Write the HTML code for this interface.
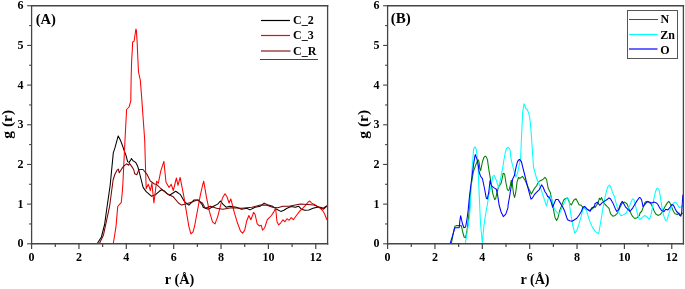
<!DOCTYPE html>
<html><head><meta charset="utf-8"><style>
html,body{margin:0;padding:0;background:#fff;}
svg{display:block;}
text{font-family:"Liberation Serif",serif;font-weight:bold;fill:#000;}
.tl{font-size:12px;}
.lg{font-size:12px;}
.pl{font-size:14px;}
.al{font-size:15.5px;}
</style></head><body>
<svg width="685" height="289" viewBox="0 0 685 289">
<rect width="685" height="289" fill="#fff"/>
<polyline points="31.5,243.5 97.3,243.5 101.4,237.0 104.6,224.5 106.6,210.0 108.7,195.4 110.2,185.0 113.3,152.9 115.0,147.7 118.2,135.9 120.6,140.6 122.9,146.8 124.5,151.5 126.0,155.4 127.6,161.6 129.1,162.4 130.7,160.0 131.5,158.5 133.0,160.8 134.6,161.6 136.2,163.2 137.7,166.3 138.9,170.5 140.0,175.0 143.1,187.4 146.2,191.6 151.4,196.2 155.6,194.7 159.3,191.3 161.7,189.7 164.8,191.3 167.1,193.6 169.5,195.2 173.4,192.8 175.7,191.3 178.0,192.8 180.5,194.7 184.7,202.0 188.9,205.1 194.1,199.9 198.2,199.9 202.4,205.0 203.1,207.2 208.3,209.3 213.5,206.2 217.7,204.1 220.4,201.0 222.9,204.1 226.0,207.2 230.1,206.2 236.4,207.2 241.6,209.3 246.8,208.3 249.9,209.9 255.1,207.2 260.3,206.2 264.2,203.1 268.3,205.1 272.5,206.2 276.6,209.3 280.8,211.4 283.9,210.3 287.0,208.3 291.2,206.6 295.3,207.2 298.5,206.2 301.6,209.3 304.7,210.3 308.9,209.9 313.0,208.3 317.2,207.2 320.3,207.2 323.4,208.3 327.0,205.8" fill="none" stroke="#000" stroke-width="1.05" stroke-linejoin="round"/>
<polyline points="31.5,243.5 113.3,243.5 116.0,226.6 117.7,206.8 119.1,204.8 121.2,202.7 122.2,193.3 122.8,185.0 125.0,140.0 126.6,109.5 129.1,107.0 130.8,100.8 131.1,80.0 131.6,61.6 132.4,48.0 132.6,42.0 134.0,41.5 134.8,36.5 135.9,29.0 136.5,31.0 136.7,36.0 137.1,41.0 137.8,57.4 138.5,72.0 140.3,80.0 141.6,96.6 144.7,140.0 145.4,164.2 146.2,188.5 148.3,184.3 150.4,190.5 151.9,183.3 153.9,203.0 156.6,181.2 158.3,183.3 160.8,170.8 163.9,161.4 166.0,182.2 169.1,187.4 171.2,184.3 173.3,190.5 176.4,178.0 178.0,185.3 180.1,177.4 183.7,195.7 186.8,214.1 188.9,226.6 190.9,233.9 193.0,231.8 194.5,226.6 197.2,212.0 200.3,195.4 202.4,186.0 203.7,181.2 206.2,195.8 209.4,211.4 212.5,221.8 215.0,223.9 217.7,216.6 219.8,208.3 222.5,197.9 225.0,193.7 227.0,196.8 229.1,203.0 230.8,198.9 232.2,204.1 234.3,212.4 237.4,222.8 240.5,231.1 242.6,233.2 244.7,230.1 246.8,220.7 248.9,215.5 250.9,219.7 253.6,212.4 255.1,214.5 257.2,223.9 259.3,225.9 261.3,225.3 262.5,230.1 264.6,228.0 267.3,219.7 269.4,217.6 271.4,215.5 273.5,212.4 275.6,208.3 277.0,221.8 278.7,224.9 280.8,222.8 282.9,219.7 284.9,221.8 287.0,218.7 289.1,220.3 291.2,217.6 293.3,219.7 296.4,215.5 299.5,211.4 302.6,208.3 305.7,205.1 308.2,202.0 309.9,201.0 311.6,203.1 314.5,204.5 317.8,206.6 320.3,208.3 322.4,210.3 324.4,213.5 326.5,218.7 327.0,220.0" fill="none" stroke="#ff0000" stroke-width="1.05" stroke-linejoin="round"/>
<polyline points="31.5,243.5 99.4,243.5 103.5,234.9 106.6,220.3 109.7,205.8 111.5,192.0 113.1,180.0 114.8,174.5 116.9,170.4 118.3,169.0 119.3,172.8 120.4,171.0 121.8,168.7 123.8,166.2 126.6,163.8 128.7,165.2 129.5,163.3 131.6,166.4 133.7,169.5 134.7,173.7 136.8,174.7 138.9,169.5 143.0,169.5 147.2,174.7 150.3,181.0 154.4,184.0 156.6,184.3 160.8,188.5 167.0,193.7 173.3,196.8 178.5,203.0 181.6,205.1 185.7,204.1 192.0,202.0 197.2,199.9 202.4,203.0 205.2,208.3 210.4,206.2 216.6,208.3 222.9,209.3 231.2,207.8 241.6,208.3 252.0,207.2 260.3,205.1 266.2,205.1 272.5,207.2 277.7,207.8 282.9,206.2 289.1,206.2 295.3,205.1 300.5,204.1 307.8,204.5 314.0,205.1 319.3,207.2 323.4,209.3 327.0,206.2" fill="none" stroke="#800000" stroke-width="1.05" stroke-linejoin="round"/>
<polyline points="451.4,243.5 453.5,232.0 454.9,226.3 456.3,225.6 461.3,225.6 462.7,232.0 464.1,237.0 465.6,237.7 467.0,230.6 468.4,219.2 469.8,205.0 470.6,189.0 473.3,172.0 475.6,165.3 477.2,161.5 478.3,159.9 479.1,162.2 479.8,168.3 480.6,170.6 481.4,166.8 482.5,161.5 484.0,157.3 485.2,156.1 486.3,156.9 487.5,159.9 488.2,165.3 489.0,170.6 491.4,184.9 492.9,194.1 494.7,199.6 495.6,198.9 497.0,192.7 498.4,187.2 499.8,185.1 501.2,183.0 503.2,173.3 504.6,174.0 506.0,183.0 507.4,189.9 508.8,190.6 510.2,185.8 511.3,180.2 512.2,183.0 513.6,194.1 514.6,197.5 515.7,192.7 517.1,181.6 518.5,177.5 520.0,178.2 522.5,176.4 525.2,180.5 528.3,187.8 531.4,194.1 534.1,188.9 536.6,185.7 538.7,181.6 540.8,180.5 542.9,179.5 544.9,177.4 546.6,179.5 548.1,188.0 550.3,192.5 551.9,200.2 553.5,209.6 555.0,217.4 556.6,220.5 558.1,217.4 559.7,210.4 562.0,204.9 563.6,200.2 565.1,198.7 567.5,197.9 569.8,203.4 571.4,204.9 573.7,200.2 576.0,198.7 577.6,201.8 579.2,204.9 580.7,204.9 583.0,207.3 585.4,208.8 587.7,209.6 590.1,210.4 592.4,208.8 594.7,206.5 595.0,207.6 596.6,205.3 598.1,202.9 599.4,198.2 600.5,199.8 601.5,197.5 602.8,200.6 604.3,203.7 606.7,206.0 609.0,208.4 610.6,213.8 612.9,216.2 615.2,215.4 617.6,213.0 619.9,207.6 622.3,202.9 624.6,202.1 626.9,203.7 628.5,207.6 630.0,211.5 632.4,216.2 634.7,218.5 637.1,217.7 639.4,215.4 640.0,213.0 641.6,211.5 643.1,207.6 644.7,202.9 646.2,201.4 648.6,202.1 650.9,203.7 652.5,206.8 654.0,210.7 655.6,213.8 657.9,215.4 660.2,214.6 662.6,211.5 664.9,206.8 667.3,202.9 668.8,201.4 670.4,203.7 671.9,207.6 673.5,211.5 675.0,213.8 677.4,214.6 678.9,213.0 680.5,215.4 681.7,213.8 683.6,213.0" fill="none" stroke="#008000" stroke-width="1.05" stroke-linejoin="round"/>
<polyline points="465.3,243.5 467.0,233.4 468.4,224.9 469.8,213.5 471.4,185.0 471.8,172.0 473.0,157.6 473.5,150.0 474.3,147.5 475.3,147.0 476.4,150.0 477.2,157.6 478.3,172.0 479.0,190.0 480.5,223.5 482.3,242.6 484.0,224.9 486.2,210.7 487.3,205.0 488.7,196.0 490.8,187.2 492.9,176.1 494.2,175.4 496.3,180.2 498.4,187.2 499.6,184.0 501.1,175.6 502.7,167.8 503.9,160.0 505.2,153.0 506.6,148.5 508.4,147.2 510.0,149.5 511.2,160.0 512.8,166.2 514.4,172.5 515.9,177.1 517.5,173.2 519.0,166.2 520.6,158.0 521.6,135.0 522.7,111.6 524.1,103.7 525.8,108.5 527.5,110.0 528.9,113.7 530.0,120.0 531.0,130.3 532.0,144.9 533.5,167.0 536.6,178.5 539.8,185.7 542.9,195.1 544.5,200.0 546.4,205.9 547.4,202.4 548.5,197.5 549.8,195.8 551.2,197.5 552.6,202.4 554.0,207.9 555.4,210.7 556.8,212.0 558.5,214.0 560.0,212.5 562.3,207.0 564.4,202.4 565.8,199.3 567.2,197.5 568.9,199.5 570.6,212.9 572.7,225.3 574.8,233.2 576.8,230.5 578.9,224.3 581.0,217.0 583.1,208.7 585.1,207.7 587.2,212.9 589.3,220.1 592.4,227.4 595.5,231.6 598.7,233.7 600.5,223.0 602.8,209.2 605.1,196.7 607.5,187.3 609.3,185.0 610.6,186.6 612.1,191.2 614.5,196.7 616.0,202.9 617.6,208.4 619.1,213.0 620.7,215.4 622.3,215.4 623.8,214.6 626.2,213.0 628.5,208.4 630.8,202.9 632.4,199.0 633.6,199.0 634.7,202.1 636.3,209.2 637.8,215.4 639.4,219.3 640.0,219.3 642.3,217.7 644.7,215.4 647.0,216.9 649.3,219.3 650.9,215.4 652.5,207.6 654.0,198.2 655.6,191.2 657.1,188.1 658.7,188.9 659.9,193.6 661.0,201.4 662.6,210.7 664.1,216.9 665.7,220.8 667.3,219.3 668.8,213.8 670.4,209.2 671.9,206.0 673.5,202.9 675.0,202.1 676.6,202.9 678.2,206.0 679.7,207.6 681.3,206.8 683.6,205.3" fill="none" stroke="#00ffff" stroke-width="1.05" stroke-linejoin="round"/>
<polyline points="450.2,243.5 452.8,234.8 454.9,227.7 459.2,227.7 459.9,220.6 460.6,215.7 461.3,218.5 462.4,223.5 463.9,227.7 465.6,227.0 467.0,219.2 468.1,210.7 469.6,195.0 472.6,172.0 473.7,163.7 474.9,156.1 475.3,154.6 476.4,157.6 477.2,159.9 478.3,165.3 479.1,172.0 480.5,176.0 482.5,178.9 484.5,188.5 486.3,198.2 487.3,198.9 488.7,192.7 490.1,180.2 491.5,185.8 494.2,187.9 496.3,189.2 497.7,195.5 499.1,205.0 501.1,212.0 503.3,216.6 505.8,214.1 507.9,207.9 508.1,205.0 509.7,195.8 511.2,186.5 512.8,178.7 514.4,175.6 515.9,167.8 517.5,161.6 519.0,159.6 519.8,159.6 521.4,161.6 522.9,167.8 524.5,174.0 526.0,180.2 527.6,186.5 529.2,192.7 531.0,199.2 532.3,198.2 534.6,194.3 536.9,191.9 539.3,189.6 541.6,184.9 543.2,187.3 544.7,191.2 546.4,193.7 547.8,196.8 548.0,196.4 549.6,197.9 551.1,201.8 552.7,207.3 554.2,203.4 555.8,199.5 558.1,199.5 560.5,203.4 562.8,207.3 564.4,210.4 565.9,215.0 567.5,219.7 569.8,220.8 572.1,221.3 574.5,219.7 576.8,218.2 579.2,215.0 581.5,211.2 583.0,207.3 584.6,206.5 586.2,208.0 588.5,210.4 590.1,211.2 591.6,208.0 593.2,207.3 594.7,205.7 595.0,203.7 597.3,202.1 599.7,205.3 602.0,202.9 604.3,201.4 606.7,199.8 609.0,197.9 610.6,199.0 612.9,202.9 615.2,208.4 616.8,211.5 618.4,209.9 620.7,203.7 622.3,201.4 623.8,203.7 625.4,206.8 627.7,209.2 630.0,211.5 632.4,208.4 634.7,204.5 637.1,200.6 639.4,197.5 640.0,197.5 641.6,199.8 643.1,206.8 645.5,203.7 647.8,201.4 649.3,202.1 651.7,202.9 654.0,202.1 656.4,202.9 657.9,204.5 659.5,207.6 661.8,210.7 664.1,211.5 665.7,209.2 668.0,209.9 670.4,206.8 671.9,204.5 673.5,205.3 675.0,208.4 676.6,211.5 678.2,213.0 679.7,215.4 680.8,216.2 681.7,212.3 682.4,201.4 682.8,195.1 683.6,196.7" fill="none" stroke="#0000ff" stroke-width="1.05" stroke-linejoin="round"/>
<line x1="30.900000000000002" y1="5.75" x2="328.3" y2="5.75" stroke="#454545" stroke-width="1.5"/>
<line x1="30.900000000000002" y1="243.8" x2="328.3" y2="243.8" stroke="#454545" stroke-width="1.5"/>
<line x1="31.6" y1="5" x2="31.6" y2="244.55" stroke="#454545" stroke-width="1.3"/>
<line x1="327.6" y1="5" x2="327.6" y2="244.55" stroke="#454545" stroke-width="1.3"/>
<line x1="27.1" y1="243.80" x2="31.6" y2="243.80" stroke="#454545" stroke-width="1.1"/>
<text x="23.6" y="247.20" class="tl" text-anchor="end">0</text>
<line x1="29.1" y1="223.96" x2="31.6" y2="223.96" stroke="#454545" stroke-width="1.1"/>
<line x1="27.1" y1="204.12" x2="31.6" y2="204.12" stroke="#454545" stroke-width="1.1"/>
<text x="23.6" y="207.53" class="tl" text-anchor="end">1</text>
<line x1="29.1" y1="184.29" x2="31.6" y2="184.29" stroke="#454545" stroke-width="1.1"/>
<line x1="27.1" y1="164.45" x2="31.6" y2="164.45" stroke="#454545" stroke-width="1.1"/>
<text x="23.6" y="167.85" class="tl" text-anchor="end">2</text>
<line x1="29.1" y1="144.61" x2="31.6" y2="144.61" stroke="#454545" stroke-width="1.1"/>
<line x1="27.1" y1="124.78" x2="31.6" y2="124.78" stroke="#454545" stroke-width="1.1"/>
<text x="23.6" y="128.18" class="tl" text-anchor="end">3</text>
<line x1="29.1" y1="104.94" x2="31.6" y2="104.94" stroke="#454545" stroke-width="1.1"/>
<line x1="27.1" y1="85.10" x2="31.6" y2="85.10" stroke="#454545" stroke-width="1.1"/>
<text x="23.6" y="88.50" class="tl" text-anchor="end">4</text>
<line x1="29.1" y1="65.26" x2="31.6" y2="65.26" stroke="#454545" stroke-width="1.1"/>
<line x1="27.1" y1="45.43" x2="31.6" y2="45.43" stroke="#454545" stroke-width="1.1"/>
<text x="23.6" y="48.83" class="tl" text-anchor="end">5</text>
<line x1="29.1" y1="25.59" x2="31.6" y2="25.59" stroke="#454545" stroke-width="1.1"/>
<line x1="27.1" y1="5.75" x2="31.6" y2="5.75" stroke="#454545" stroke-width="1.1"/>
<text x="23.6" y="9.15" class="tl" text-anchor="end">6</text>
<line x1="31.60" y1="243.8" x2="31.60" y2="249.0" stroke="#454545" stroke-width="1.2"/>
<text x="31.60" y="261" class="tl" text-anchor="middle">0</text>
<line x1="55.28" y1="243.8" x2="55.28" y2="247.0" stroke="#454545" stroke-width="1.2"/>
<line x1="78.96" y1="243.8" x2="78.96" y2="249.0" stroke="#454545" stroke-width="1.2"/>
<text x="78.96" y="261" class="tl" text-anchor="middle">2</text>
<line x1="102.64" y1="243.8" x2="102.64" y2="247.0" stroke="#454545" stroke-width="1.2"/>
<line x1="126.32" y1="243.8" x2="126.32" y2="249.0" stroke="#454545" stroke-width="1.2"/>
<text x="126.32" y="261" class="tl" text-anchor="middle">4</text>
<line x1="150.00" y1="243.8" x2="150.00" y2="247.0" stroke="#454545" stroke-width="1.2"/>
<line x1="173.68" y1="243.8" x2="173.68" y2="249.0" stroke="#454545" stroke-width="1.2"/>
<text x="173.68" y="261" class="tl" text-anchor="middle">6</text>
<line x1="197.36" y1="243.8" x2="197.36" y2="247.0" stroke="#454545" stroke-width="1.2"/>
<line x1="221.04" y1="243.8" x2="221.04" y2="249.0" stroke="#454545" stroke-width="1.2"/>
<text x="221.04" y="261" class="tl" text-anchor="middle">8</text>
<line x1="244.72" y1="243.8" x2="244.72" y2="247.0" stroke="#454545" stroke-width="1.2"/>
<line x1="268.40" y1="243.8" x2="268.40" y2="249.0" stroke="#454545" stroke-width="1.2"/>
<text x="268.40" y="261" class="tl" text-anchor="middle">10</text>
<line x1="292.08" y1="243.8" x2="292.08" y2="247.0" stroke="#454545" stroke-width="1.2"/>
<line x1="315.76" y1="243.8" x2="315.76" y2="249.0" stroke="#454545" stroke-width="1.2"/>
<text x="315.76" y="261" class="tl" text-anchor="middle">12</text>
<line x1="386.90000000000003" y1="5.75" x2="684.1" y2="5.75" stroke="#454545" stroke-width="1.5"/>
<line x1="386.90000000000003" y1="243.8" x2="684.1" y2="243.8" stroke="#454545" stroke-width="1.5"/>
<line x1="387.6" y1="5" x2="387.6" y2="244.55" stroke="#454545" stroke-width="1.3"/>
<line x1="683.4" y1="5" x2="683.4" y2="244.55" stroke="#454545" stroke-width="1.3"/>
<line x1="383.1" y1="243.80" x2="387.6" y2="243.80" stroke="#454545" stroke-width="1.1"/>
<text x="379.6" y="247.20" class="tl" text-anchor="end">0</text>
<line x1="385.1" y1="223.96" x2="387.6" y2="223.96" stroke="#454545" stroke-width="1.1"/>
<line x1="383.1" y1="204.12" x2="387.6" y2="204.12" stroke="#454545" stroke-width="1.1"/>
<text x="379.6" y="207.53" class="tl" text-anchor="end">1</text>
<line x1="385.1" y1="184.29" x2="387.6" y2="184.29" stroke="#454545" stroke-width="1.1"/>
<line x1="383.1" y1="164.45" x2="387.6" y2="164.45" stroke="#454545" stroke-width="1.1"/>
<text x="379.6" y="167.85" class="tl" text-anchor="end">2</text>
<line x1="385.1" y1="144.61" x2="387.6" y2="144.61" stroke="#454545" stroke-width="1.1"/>
<line x1="383.1" y1="124.78" x2="387.6" y2="124.78" stroke="#454545" stroke-width="1.1"/>
<text x="379.6" y="128.18" class="tl" text-anchor="end">3</text>
<line x1="385.1" y1="104.94" x2="387.6" y2="104.94" stroke="#454545" stroke-width="1.1"/>
<line x1="383.1" y1="85.10" x2="387.6" y2="85.10" stroke="#454545" stroke-width="1.1"/>
<text x="379.6" y="88.50" class="tl" text-anchor="end">4</text>
<line x1="385.1" y1="65.26" x2="387.6" y2="65.26" stroke="#454545" stroke-width="1.1"/>
<line x1="383.1" y1="45.43" x2="387.6" y2="45.43" stroke="#454545" stroke-width="1.1"/>
<text x="379.6" y="48.83" class="tl" text-anchor="end">5</text>
<line x1="385.1" y1="25.59" x2="387.6" y2="25.59" stroke="#454545" stroke-width="1.1"/>
<line x1="383.1" y1="5.75" x2="387.6" y2="5.75" stroke="#454545" stroke-width="1.1"/>
<text x="379.6" y="9.15" class="tl" text-anchor="end">6</text>
<line x1="387.60" y1="243.8" x2="387.60" y2="249.0" stroke="#454545" stroke-width="1.2"/>
<text x="387.60" y="261" class="tl" text-anchor="middle">0</text>
<line x1="411.28" y1="243.8" x2="411.28" y2="247.0" stroke="#454545" stroke-width="1.2"/>
<line x1="434.96" y1="243.8" x2="434.96" y2="249.0" stroke="#454545" stroke-width="1.2"/>
<text x="434.96" y="261" class="tl" text-anchor="middle">2</text>
<line x1="458.64" y1="243.8" x2="458.64" y2="247.0" stroke="#454545" stroke-width="1.2"/>
<line x1="482.32" y1="243.8" x2="482.32" y2="249.0" stroke="#454545" stroke-width="1.2"/>
<text x="482.32" y="261" class="tl" text-anchor="middle">4</text>
<line x1="506.00" y1="243.8" x2="506.00" y2="247.0" stroke="#454545" stroke-width="1.2"/>
<line x1="529.68" y1="243.8" x2="529.68" y2="249.0" stroke="#454545" stroke-width="1.2"/>
<text x="529.68" y="261" class="tl" text-anchor="middle">6</text>
<line x1="553.36" y1="243.8" x2="553.36" y2="247.0" stroke="#454545" stroke-width="1.2"/>
<line x1="577.04" y1="243.8" x2="577.04" y2="249.0" stroke="#454545" stroke-width="1.2"/>
<text x="577.04" y="261" class="tl" text-anchor="middle">8</text>
<line x1="600.72" y1="243.8" x2="600.72" y2="247.0" stroke="#454545" stroke-width="1.2"/>
<line x1="624.40" y1="243.8" x2="624.40" y2="249.0" stroke="#454545" stroke-width="1.2"/>
<text x="624.40" y="261" class="tl" text-anchor="middle">10</text>
<line x1="648.08" y1="243.8" x2="648.08" y2="247.0" stroke="#454545" stroke-width="1.2"/>
<line x1="671.76" y1="243.8" x2="671.76" y2="249.0" stroke="#454545" stroke-width="1.2"/>
<text x="671.76" y="261" class="tl" text-anchor="middle">12</text>
<text x="35.7" y="24.2" class="pl" style="font-size:14.6px">(A)</text>
<text x="390.8" y="23" class="pl" style="font-size:15px">(B)</text>
<text x="179.6" y="284" class="al" text-anchor="middle" textLength="29.6" lengthAdjust="spacingAndGlyphs">r (&#197;)</text>
<text x="535" y="284" class="al" text-anchor="middle" textLength="29.2" lengthAdjust="spacingAndGlyphs">r (&#197;)</text>
<text transform="translate(12,124.3) rotate(-90)" class="al" text-anchor="middle">g (r)</text>
<text transform="translate(368,124.3) rotate(-90)" class="al" text-anchor="middle">g (r)</text>
<line x1="261" y1="20.5" x2="290" y2="20.5" stroke="#000" stroke-width="1.2"/>
<text x="293" y="24" class="lg">C_2</text>
<line x1="261" y1="35.5" x2="290" y2="35.5" stroke="#ff0000" stroke-width="1.2"/>
<text x="293" y="39" class="lg">C_3</text>
<line x1="261" y1="51" x2="290.5" y2="51" stroke="#b06666" stroke-width="1.8"/>
<text x="293" y="54.5" class="lg">C_R</text>
<line x1="260" y1="59.5" x2="318" y2="59.5" stroke="#444" stroke-width="1"/>
<rect x="627.5" y="10.5" width="50" height="48" fill="#fff" stroke="#555" stroke-width="1"/>
<line x1="629" y1="19.5" x2="658" y2="19.5" stroke="#008000" stroke-width="1"/>
<text x="660.6" y="22.9" class="lg">N</text>
<line x1="629" y1="34.5" x2="657.5" y2="34.5" stroke="#00ffff" stroke-width="1.2"/>
<text x="660.3" y="38.5" class="lg">Zn</text>
<line x1="629" y1="49" x2="657.5" y2="49" stroke="#0000ff" stroke-width="1.2"/>
<text x="660.3" y="53.5" class="lg">O</text>
</svg>
</body></html>
